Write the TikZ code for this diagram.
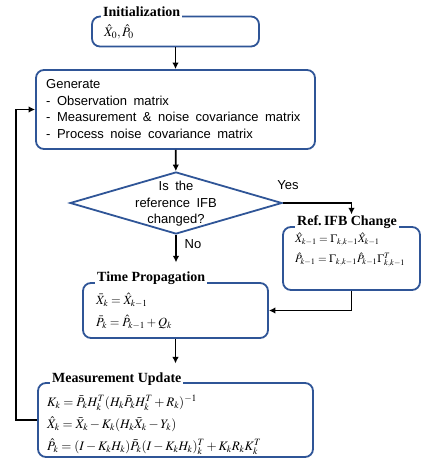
\documentclass[tikz,border=0pt]{standalone}
\usepackage{mathptmx}
\usepackage{fontspec}
\setmainfont{Liberation Serif}
\setsansfont{Liberation Sans}
\usetikzlibrary{arrows.meta,positioning,calc,shapes.geometric}
\definecolor{frameblue}{RGB}{47,85,151}

\begin{document}
\begin{tikzpicture}[x=1pt,y=-1pt,>={Latex[length=6.5pt,width=6.5pt]},every node/.style={font=\fontsize{13}{22}\selectfont},box/.style={draw=frameblue,line width=1.8pt,rounded corners=8pt,inner sep=0pt},ttl/.style={anchor=west,fill=white,inner xsep=2pt,inner ysep=1pt,font=\fontsize{14}{15}\selectfont\bfseries},eqn/.style={anchor=west,align=left,inner sep=0pt},txt/.style={align=left,inner sep=0pt,font=\sffamily\fontsize{13}{16.5}\selectfont,execute at begin node={\spaceskip=6.5pt plus 1pt\relax}},flow/.style={->,line width=1.8pt}]
\useasboundingbox (0,0) rectangle (421,465);
\node[box,minimum width=167pt,minimum height=30pt] (init) at (175.5,31.5) {};
\node[box,minimum width=279pt,minimum height=79pt] (gen) at (175.5,109.5) {};
\node[box,diamond,aspect=3.4,rounded corners=0pt,minimum width=212pt,minimum height=62pt] (dec) at (176,203) {};
\node[box,minimum width=137pt,minimum height=63pt] (ref) at (351.5,258.5) {};
\node[box,minimum width=185pt,minimum height=55pt] (time) at (175.5,310.5) {};
\node[box,minimum width=275pt,minimum height=74pt] (meas) at (175.5,420) {};
\node[ttl] (initt) at (101,12) {Initialization};
\node[ttl] (reft) at (295,222) {Ref.\,IFB Change};
\node[ttl] (timet) at (95,278) {Time Propagation};
\node[ttl] (meast) at (50,379) {Measurement Update};
\node[eqn] (initx) at (104,32) {$\hat{X}_0,\hat{P}_0$};
\node[txt,anchor=west] (genx) at (46,109) {Generate\\- Observation matrix\\- Measurement \& noise covariance matrix\\- Process noise covariance matrix};
\node[txt,align=center] (decx) at (176,204) {Is the\\reference IFB\\changed?};
\node[eqn,font=\fontsize{11.2}{20}\selectfont] (refx) at (295,250) {$\hat{X}_{k-1}=\Gamma_{k,k-1}\hat{X}_{k-1}$\\$\hat{P}_{k-1}=\Gamma_{k,k-1}\hat{P}_{k-1}\Gamma_{k,k-1}^{T}$};
\node[eqn,font=\fontsize{12.5}{22}\selectfont] (timex) at (96,311) {$\bar{X}_k=\hat{X}_{k-1}$\\$\bar{P}_k=\hat{P}_{k-1}+Q_k$};
\node[eqn,font=\fontsize{13}{22}\selectfont] (measx) at (47,425) {$K_k=\bar{P}_k H_k^T(H_k\bar{P}_k H_k^T+R_k)^{-1}$\\$\hat{X}_k=\bar{X}_k-K_k(H_k\bar{X}_k-Y_k)$\\$\hat{P}_k=(I-K_kH_k)\bar{P}_k(I-K_kH_k)_k^T+K_kR_kK_k^T$};
\node[txt,font=\sffamily\fontsize{13}{15}\selectfont] (yes) at (288,185) {Yes};
\node[txt,font=\sffamily\fontsize{13}{15}\selectfont] (no) at (193,244) {No};
\coordinate (back) at (16,0);
\draw[flow] (init) -- (gen);
\draw[flow] (gen) -- (dec);
\draw[flow] (dec.east) -| (ref.north |- reft.north);
\draw[flow] (dec.south) -- ($(dec.south |- timet.north)+(0,-8)$);
\draw[flow] (ref.south) |- (time.east);
\draw[flow] (time.south) -- ($(time.south |- meast.north)+(0,-8)$);
\draw[flow] (meas.west) -- (meas.west -| back) |- (gen.west);
\end{tikzpicture}
\end{document}
